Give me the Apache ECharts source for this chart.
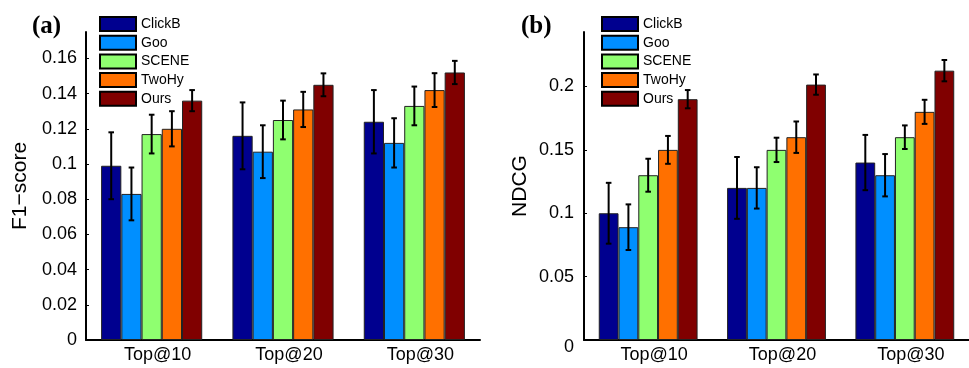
<!DOCTYPE html>
<html>
<head>
<meta charset="utf-8">
<script src="https://cdn.jsdelivr.net/npm/echarts@6/dist/echarts.min.js"></script>
<style>
html,body{margin:0;padding:0;background:#fff;}
#c{width:969px;height:368px;}
</style>
</head>
<body>
<div id="c"></div>
<script>
// ---- data ----
var categories = ['Top@10', 'Top@20', 'Top@30'];
var methods = ['ClickB', 'Goo', 'SCENE', 'TwoHy', 'Ours'];
var colors = ['#00008F', '#008FFF', '#8FFF70', '#FF7000', '#800000'];

var f1ClickB = [0.099, 0.116, 0.124];
var f1Goo    = [0.083, 0.107, 0.112];
var f1Scene  = [0.117, 0.125, 0.133];
var f1TwoHy  = [0.120, 0.131, 0.142];
var f1Ours   = [0.136, 0.145, 0.152];

var f1ErrClickB = [0.019, 0.019, 0.018];
var f1ErrGoo    = [0.015, 0.015, 0.014];
var f1ErrScene  = [0.011, 0.011, 0.011];
var f1ErrTwoHy  = [0.010, 0.010, 0.0096];
var f1ErrOurs   = [0.006, 0.0065, 0.0066];

var ndcgClickB = [0.100, 0.120, 0.140];
var ndcgGoo    = [0.089, 0.120, 0.130];
var ndcgScene  = [0.130, 0.150, 0.160];
var ndcgTwoHy  = [0.150, 0.160, 0.180];
var ndcgOurs   = [0.190, 0.2015, 0.2125];

var ndcgErrClickB = [0.024, 0.0244, 0.0218];
var ndcgErrGoo    = [0.018, 0.0163, 0.0167];
var ndcgErrScene  = [0.013, 0.0096, 0.0093];
var ndcgErrTwoHy  = [0.011, 0.0124, 0.0095];
var ndcgErrOurs   = [0.0072, 0.008, 0.0084];

var f1Ticks = {min: 0, max: 0.175, interval: 0.02};
var ndcgTicks = {min: 0, max: 0.243, interval: 0.05};

// ---- chart ----
var f1Vals = [f1ClickB, f1Goo, f1Scene, f1TwoHy, f1Ours];
var f1Errs = [f1ErrClickB, f1ErrGoo, f1ErrScene, f1ErrTwoHy, f1ErrOurs];
var ndcgVals = [ndcgClickB, ndcgGoo, ndcgScene, ndcgTwoHy, ndcgOurs];
var ndcgErrs = [ndcgErrClickB, ndcgErrGoo, ndcgErrScene, ndcgErrTwoHy, ndcgErrOurs];

var GAP = 0.23;
var FONT = 'Liberation Sans, Arial, sans-serif';

function errData(vals, errs) {
  var out = [];
  for (var s = 0; s < vals.length; s++)
    for (var c = 0; c < vals[s].length; c++)
      out.push([c, s, vals[s][c], errs[s][c]]);
  return out;
}

function renderErr(params, api) {
  var ci = api.value(0), si = api.value(1), v = api.value(2), e = api.value(3);
  var band = api.size([1, 0])[0];
  var bw = band * (1 - GAP) / methods.length;
  var c = api.coord([ci, v]);
  var x = c[0] + (si - (methods.length - 1) / 2) * bw;
  var top = api.coord([ci, v + e])[1];
  var bot = api.coord([ci, v - e])[1];
  var cap = 2.8;
  var st = {stroke: '#000', lineWidth: 2};
  return {type: 'group', children: [
    {type: 'line', shape: {x1: x, y1: top, x2: x, y2: bot}, style: st},
    {type: 'line', shape: {x1: x - cap, y1: top, x2: x + cap, y2: top}, style: st},
    {type: 'line', shape: {x1: x - cap, y1: bot, x2: x + cap, y2: bot}, style: st}
  ]};
}

function barSeries(vals, axisIdx) {
  return methods.map(function (m, i) {
    return {
      name: m, type: 'bar', xAxisIndex: axisIdx, yAxisIndex: axisIdx,
      data: vals[i], barGap: '0%', barCategoryGap: (GAP * 100) + '%',
      itemStyle: {color: colors[i], borderColor: '#222', borderWidth: 1},
      emphasis: {disabled: true}, animation: false
    };
  });
}

function xAxisCfg(gi) {
  return {
    type: 'category', gridIndex: gi, data: categories,
    axisLine: {lineStyle: {color: '#000', width: 2}},
    axisTick: {show: false},
    axisLabel: {color: '#000', fontSize: 18, fontFamily: FONT, margin: 6, padding: [0, 0, 0, 12]}
  };
}

function yAxisCfg(gi, ticks, name, gap, labelMargin, zeroLow) {
  return {
    type: 'value', gridIndex: gi, min: ticks.min, max: ticks.max, interval: ticks.interval,
    name: name, nameLocation: 'middle', nameRotate: 90, nameGap: gap,
    nameTextStyle: {color: '#000', fontSize: 21, fontFamily: FONT},
    splitLine: {show: false},
    axisLine: {show: true, lineStyle: {color: '#000', width: 2}},
    axisTick: {show: true, inside: true, length: 3, lineStyle: {color: '#000', width: 1}},
    axisLabel: {
      color: '#000', fontSize: 18, fontFamily: FONT, margin: labelMargin, showMaxLabel: false,
      formatter: function (v) {
        var s = String(Math.round(v * 1000) / 1000);
        if (zeroLow && v === 0) return '{z|' + s + '}';
        return s;
      },
      rich: {z: {fontSize: 18, fontFamily: FONT, color: '#000', padding: [14, 0, 0, 0]}}
    }
  };
}

function legendCfg(left) {
  return {
    data: methods, left: left, top: 16, orient: 'vertical', icon: 'rect',
    itemWidth: 36, itemHeight: 14, itemGap: 2.7, padding: 0, selectedMode: false,
    itemStyle: {borderColor: '#000', borderWidth: 2},
    textStyle: {color: '#000', fontSize: 14, fontFamily: FONT}
  };
}

var chart = echarts.init(document.getElementById('c'), null, {renderer: 'canvas'});
var series = barSeries(f1Vals, 0).concat(barSeries(ndcgVals, 1));
series.push({type: 'custom', name: 'errF1', xAxisIndex: 0, yAxisIndex: 0, z: 10,
  renderItem: renderErr, data: errData(f1Vals, f1Errs), encode: {x: 0, y: 2}, animation: false});
series.push({type: 'custom', name: 'errNDCG', xAxisIndex: 1, yAxisIndex: 1, z: 10,
  renderItem: renderErr, data: errData(ndcgVals, ndcgErrs), encode: {x: 0, y: 2}, animation: false});

var titleStyle = {fontFamily: 'Liberation Serif, Times New Roman, serif', fontWeight: 'bold', fontSize: 25, color: '#000'};
chart.setOption({
  animation: false,
  title: [
    {text: '(a)', left: 32, top: 14, padding: 0, textStyle: titleStyle},
    {text: '(b)', left: 521, top: 14, padding: 0, textStyle: titleStyle}
  ],
  legend: [legendCfg(99), legendCfg(601)],
  grid: [
    {left: 86, top: 32, width: 394, height: 308, containLabel: false},
    {left: 584, top: 32, width: 393, height: 308, containLabel: false}
  ],
  xAxis: [xAxisCfg(0), xAxisCfg(1)],
  yAxis: [
    yAxisCfg(0, f1Ticks, 'F1\u2212score', 55, 9, false),
    yAxisCfg(1, ndcgTicks, 'NDCG', 53, 10, true)
  ],
  series: series
});
</script>
</body>
</html>
